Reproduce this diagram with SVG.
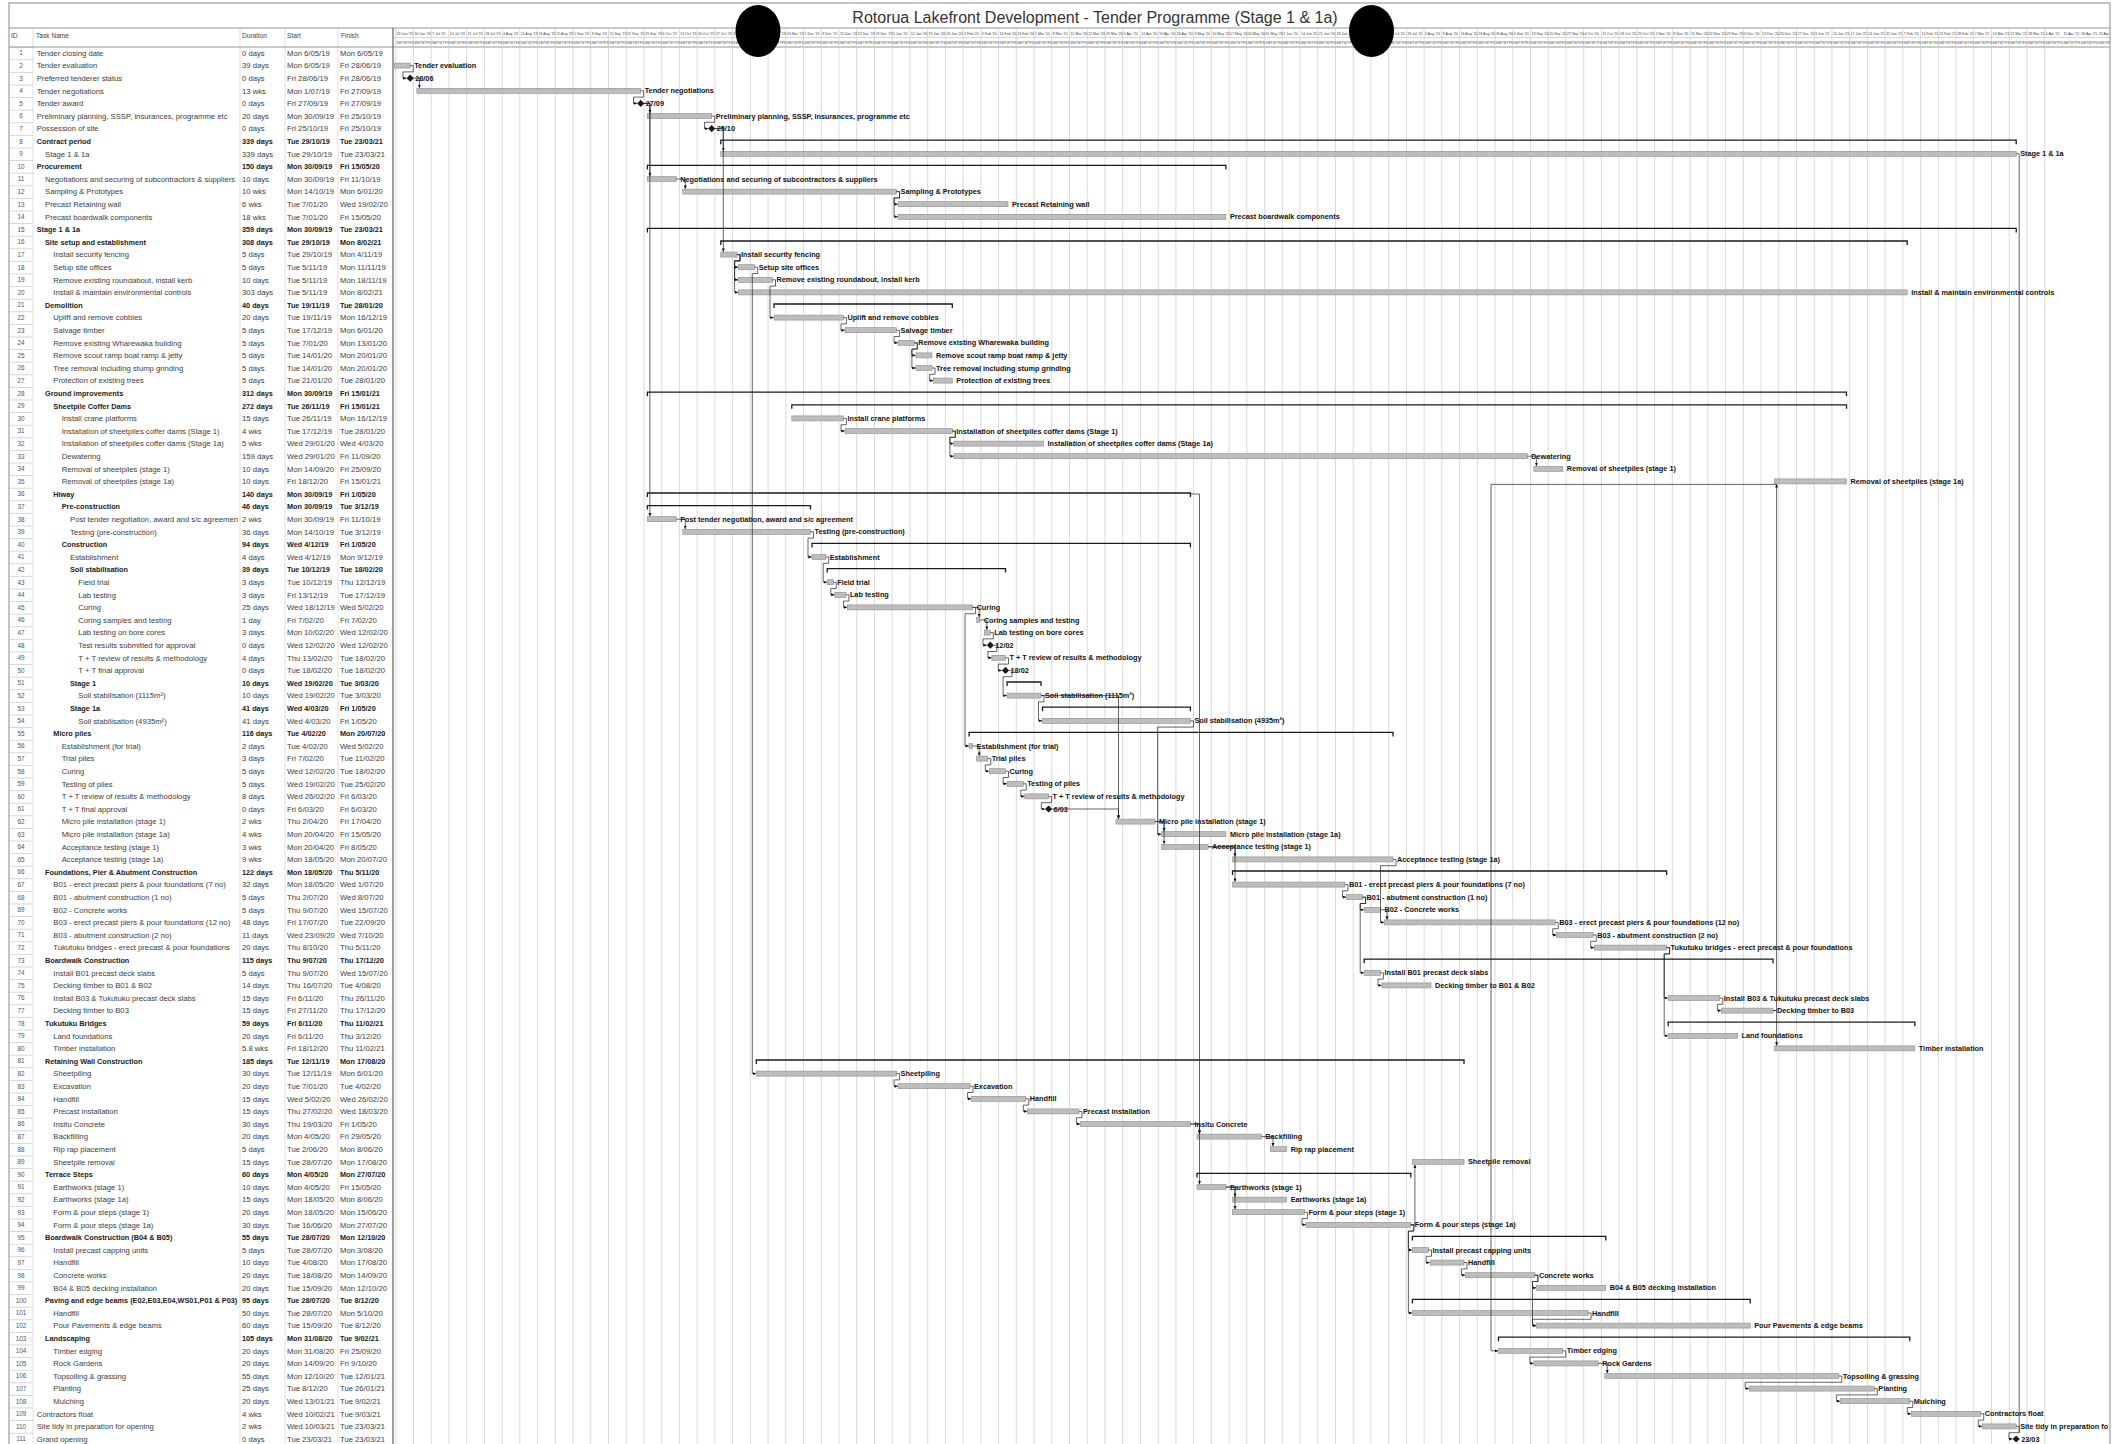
<svg xmlns="http://www.w3.org/2000/svg" width="2125" height="1444" viewBox="0 0 2125 1444">
<defs>
<style>
text{font-family:"Liberation Sans",Arial,sans-serif}
.n{font-size:7.7px;fill:#3c3c3c}
.s .n{font-size:7.3px;font-weight:bold;fill:#1a1a1a}
.i{font-size:6.4px;fill:#555;text-anchor:middle}
.l{font-size:7.3px;font-weight:bold;fill:#111}
.br{fill:#bdbdbd;stroke:#8c8c8c;stroke-width:.6}
.sm{fill:none;stroke:#1a1a1a;stroke-width:1.3}
.ms{fill:#1a1a1a}
.lk{fill:none;stroke:#222;stroke-width:.7;marker-end:url(#ah)}
.lk0{fill:none;stroke:#222;stroke-width:.7}
.hd{font-size:6.6px;fill:#444}
.wk{font-size:3.6px;fill:#444}
.dy{font-size:3.3px;fill:#444;letter-spacing:.15px}
</style>
<marker id="ah" viewBox="0 0 6 6" refX="5.5" refY="3" markerWidth="3.4" markerHeight="3.4" orient="auto" markerUnits="userSpaceOnUse"><path d="M0,0.4L6,3L0,5.6z" fill="#111"/></marker>
<pattern id="idp" x="9" y="46.7" width="24" height="12.6" patternUnits="userSpaceOnUse"><line x1="0" y1="0.3" x2="24" y2="0.3" stroke="#a8a8a8" stroke-width="0.6"/></pattern>
<clipPath id="hc"><rect x="394" y="28" width="1716" height="19"/></clipPath>
<clipPath id="cl"><rect x="394" y="-8" width="1714" height="16"/></clipPath>
</defs>
<rect width="2125" height="1444" fill="#fff"/>
<g id="frame">
<rect x="9" y="3" width="2101" height="1446" fill="#fff" stroke="#8a8a8a" stroke-width="1"/>
<rect x="9" y="46.7" width="24" height="1400" fill="url(#idp)"/>
<path d="M33,28V1444M240,28V1444M285,28V1444M338,28V1444" stroke="#d2d2d2" stroke-width="0.7" fill="none"/>
<path d="M9,28H2110M9,47H2110" stroke="#8a8a8a" stroke-width="0.9" fill="none"/>
<path d="M394,37.5H2110" stroke="#bbb" stroke-width="0.6" fill="none"/>
<path d="M395.74,28v1416m17.731-1416v1416m17.731-1416v1416m17.731-1416v1416m17.731-1416v1416m17.731-1416v1416m17.731-1416v1416m17.731-1416v1416m17.731-1416v1416m17.731-1416v1416m17.731-1416v1416m17.731-1416v1416m17.731-1416v1416m17.731-1416v1416m17.731-1416v1416m17.731-1416v1416m17.731-1416v1416m17.731-1416v1416m17.731-1416v1416m17.731-1416v1416m17.731-1416v1416m17.731-1416v1416m17.731-1416v1416m17.731-1416v1416m17.731-1416v1416m17.731-1416v1416m17.731-1416v1416m17.731-1416v1416m17.731-1416v1416m17.731-1416v1416m17.731-1416v1416m17.731-1416v1416m17.731-1416v1416m17.731-1416v1416m17.731-1416v1416m17.731-1416v1416m17.731-1416v1416m17.731-1416v1416m17.731-1416v1416m17.731-1416v1416m17.731-1416v1416m17.731-1416v1416m17.731-1416v1416m17.731-1416v1416m17.731-1416v1416m17.731-1416v1416m17.731-1416v1416m17.731-1416v1416m17.731-1416v1416m17.731-1416v1416m17.731-1416v1416m17.731-1416v1416m17.731-1416v1416m17.731-1416v1416m17.731-1416v1416m17.731-1416v1416m17.731-1416v1416m17.731-1416v1416m17.731-1416v1416m17.731-1416v1416m17.731-1416v1416m17.731-1416v1416m17.731-1416v1416m17.731-1416v1416m17.731-1416v1416m17.731-1416v1416m17.731-1416v1416m17.731-1416v1416m17.731-1416v1416m17.731-1416v1416m17.731-1416v1416m17.731-1416v1416m17.731-1416v1416m17.731-1416v1416m17.731-1416v1416m17.731-1416v1416m17.731-1416v1416m17.731-1416v1416m17.731-1416v1416m17.731-1416v1416m17.731-1416v1416m17.731-1416v1416m17.731-1416v1416m17.731-1416v1416m17.731-1416v1416m17.731-1416v1416m17.731-1416v1416m17.731-1416v1416m17.731-1416v1416m17.731-1416v1416m17.731-1416v1416m17.731-1416v1416m17.731-1416v1416m17.731-1416v1416" stroke="#cacaca" stroke-width="0.7" fill="none"/>
<path d="M393,28V1444" stroke="#777" stroke-width="1.4" fill="none"/>
</g>
<g id="title"><text x="1095" y="22.5" text-anchor="middle" font-size="16" fill="#333">Rotorua Lakefront Development - Tender Programme (Stage 1 &amp; 1a)</text></g>
<g id="table-header"><text class="hd" y="38"><tspan x="11">ID</tspan><tspan x="36">Task Name</tspan><tspan x="242">Duration</tspan><tspan x="287">Start</tspan><tspan x="341">Finish</tspan></text></g>
<g id="timescale" clip-path="url(#hc)">
<text class="wk" y="35"><tspan x="396.6">23 Jun '19</tspan><tspan x="414.4">30 Jun '19</tspan><tspan x="432.1">7 Jul '19</tspan><tspan x="449.8">14 Jul '19</tspan><tspan x="467.6">21 Jul '19</tspan><tspan x="485.3">28 Jul '19</tspan><tspan x="503">4 Aug '19</tspan><tspan x="520.8">11 Aug '19</tspan><tspan x="538.5">18 Aug '19</tspan><tspan x="556.2">25 Aug '19</tspan><tspan x="574">1 Sep '19</tspan><tspan x="591.7">8 Sep '19</tspan><tspan x="609.4">15 Sep '19</tspan><tspan x="627.1">22 Sep '19</tspan><tspan x="644.9">29 Sep '19</tspan><tspan x="662.6">6 Oct '19</tspan><tspan x="680.3">13 Oct '19</tspan><tspan x="698.1">20 Oct '19</tspan><tspan x="715.8">27 Oct '19</tspan><tspan x="733.5">3 Nov '19</tspan><tspan x="751.3">10 Nov '19</tspan><tspan x="769">17 Nov '19</tspan><tspan x="786.7">24 Nov '19</tspan><tspan x="804.5">1 Dec '19</tspan><tspan x="822.2">8 Dec '19</tspan><tspan x="839.9">15 Dec '19</tspan><tspan x="857.7">22 Dec '19</tspan><tspan x="875.4">29 Dec '19</tspan><tspan x="893.1">5 Jan '20</tspan><tspan x="910.8">12 Jan '20</tspan><tspan x="928.6">19 Jan '20</tspan><tspan x="946.3">26 Jan '20</tspan><tspan x="964">2 Feb '20</tspan><tspan x="981.8">9 Feb '20</tspan><tspan x="999.5">16 Feb '20</tspan><tspan x="1017.2">23 Feb '20</tspan><tspan x="1035">1 Mar '20</tspan><tspan x="1052.7">8 Mar '20</tspan><tspan x="1070.4">15 Mar '20</tspan><tspan x="1088.2">22 Mar '20</tspan><tspan x="1105.9">29 Mar '20</tspan><tspan x="1123.6">5 Apr '20</tspan><tspan x="1141.3">12 Apr '20</tspan><tspan x="1159.1">19 Apr '20</tspan><tspan x="1176.8">26 Apr '20</tspan><tspan x="1194.5">3 May '20</tspan><tspan x="1212.3">10 May '20</tspan><tspan x="1230">17 May '20</tspan><tspan x="1247.7">24 May '20</tspan><tspan x="1265.5">31 May '20</tspan><tspan x="1283.2">7 Jun '20</tspan><tspan x="1300.9">14 Jun '20</tspan><tspan x="1318.7">21 Jun '20</tspan><tspan x="1336.4">28 Jun '20</tspan><tspan x="1354.1">5 Jul '20</tspan><tspan x="1371.9">12 Jul '20</tspan><tspan x="1389.6">19 Jul '20</tspan><tspan x="1407.3">26 Jul '20</tspan><tspan x="1425">2 Aug '20</tspan><tspan x="1442.8">9 Aug '20</tspan><tspan x="1460.5">16 Aug '20</tspan><tspan x="1478.2">23 Aug '20</tspan><tspan x="1496">30 Aug '20</tspan><tspan x="1513.7">6 Sep '20</tspan><tspan x="1531.4">13 Sep '20</tspan><tspan x="1549.2">20 Sep '20</tspan><tspan x="1566.9">27 Sep '20</tspan><tspan x="1584.6">4 Oct '20</tspan><tspan x="1602.4">11 Oct '20</tspan><tspan x="1620.1">18 Oct '20</tspan><tspan x="1637.8">25 Oct '20</tspan><tspan x="1655.5">1 Nov '20</tspan><tspan x="1673.3">8 Nov '20</tspan><tspan x="1691">15 Nov '20</tspan><tspan x="1708.7">22 Nov '20</tspan><tspan x="1726.5">29 Nov '20</tspan><tspan x="1744.2">6 Dec '20</tspan><tspan x="1761.9">13 Dec '20</tspan><tspan x="1779.7">20 Dec '20</tspan><tspan x="1797.4">27 Dec '20</tspan><tspan x="1815.1">3 Jan '21</tspan><tspan x="1832.9">10 Jan '21</tspan><tspan x="1850.6">17 Jan '21</tspan><tspan x="1868.3">24 Jan '21</tspan><tspan x="1886.1">31 Jan '21</tspan><tspan x="1903.8">7 Feb '21</tspan><tspan x="1921.5">14 Feb '21</tspan><tspan x="1939.2">21 Feb '21</tspan><tspan x="1957">28 Feb '21</tspan><tspan x="1974.7">7 Mar '21</tspan><tspan x="1992.4">14 Mar '21</tspan><tspan x="2010.2">21 Mar '21</tspan><tspan x="2027.9">28 Mar '21</tspan><tspan x="2045.6">4 Apr '21</tspan><tspan x="2063.4">11 Apr '21</tspan><tspan x="2081.1">18 Apr '21</tspan><tspan x="2098.8">25 Apr '21</tspan></text>
<text class="dy" y="44.3"><tspan x="396.4">SMTWTFS</tspan><tspan x="414.2">SMTWTFS</tspan><tspan x="431.9">SMTWTFS</tspan><tspan x="449.6">SMTWTFS</tspan><tspan x="467.4">SMTWTFS</tspan><tspan x="485.1">SMTWTFS</tspan><tspan x="502.8">SMTWTFS</tspan><tspan x="520.6">SMTWTFS</tspan><tspan x="538.3">SMTWTFS</tspan><tspan x="556">SMTWTFS</tspan><tspan x="573.8">SMTWTFS</tspan><tspan x="591.5">SMTWTFS</tspan><tspan x="609.2">SMTWTFS</tspan><tspan x="626.9">SMTWTFS</tspan><tspan x="644.7">SMTWTFS</tspan><tspan x="662.4">SMTWTFS</tspan><tspan x="680.1">SMTWTFS</tspan><tspan x="697.9">SMTWTFS</tspan><tspan x="715.6">SMTWTFS</tspan><tspan x="733.3">SMTWTFS</tspan><tspan x="751.1">SMTWTFS</tspan><tspan x="768.8">SMTWTFS</tspan><tspan x="786.5">SMTWTFS</tspan><tspan x="804.3">SMTWTFS</tspan><tspan x="822">SMTWTFS</tspan><tspan x="839.7">SMTWTFS</tspan><tspan x="857.5">SMTWTFS</tspan><tspan x="875.2">SMTWTFS</tspan><tspan x="892.9">SMTWTFS</tspan><tspan x="910.6">SMTWTFS</tspan><tspan x="928.4">SMTWTFS</tspan><tspan x="946.1">SMTWTFS</tspan><tspan x="963.8">SMTWTFS</tspan><tspan x="981.6">SMTWTFS</tspan><tspan x="999.3">SMTWTFS</tspan><tspan x="1017">SMTWTFS</tspan><tspan x="1034.8">SMTWTFS</tspan><tspan x="1052.5">SMTWTFS</tspan><tspan x="1070.2">SMTWTFS</tspan><tspan x="1088">SMTWTFS</tspan><tspan x="1105.7">SMTWTFS</tspan><tspan x="1123.4">SMTWTFS</tspan><tspan x="1141.1">SMTWTFS</tspan><tspan x="1158.9">SMTWTFS</tspan><tspan x="1176.6">SMTWTFS</tspan><tspan x="1194.3">SMTWTFS</tspan><tspan x="1212.1">SMTWTFS</tspan><tspan x="1229.8">SMTWTFS</tspan><tspan x="1247.5">SMTWTFS</tspan><tspan x="1265.3">SMTWTFS</tspan><tspan x="1283">SMTWTFS</tspan><tspan x="1300.7">SMTWTFS</tspan><tspan x="1318.5">SMTWTFS</tspan><tspan x="1336.2">SMTWTFS</tspan><tspan x="1353.9">SMTWTFS</tspan><tspan x="1371.7">SMTWTFS</tspan><tspan x="1389.4">SMTWTFS</tspan><tspan x="1407.1">SMTWTFS</tspan><tspan x="1424.8">SMTWTFS</tspan><tspan x="1442.6">SMTWTFS</tspan><tspan x="1460.3">SMTWTFS</tspan><tspan x="1478">SMTWTFS</tspan><tspan x="1495.8">SMTWTFS</tspan><tspan x="1513.5">SMTWTFS</tspan><tspan x="1531.2">SMTWTFS</tspan><tspan x="1549">SMTWTFS</tspan><tspan x="1566.7">SMTWTFS</tspan><tspan x="1584.4">SMTWTFS</tspan><tspan x="1602.2">SMTWTFS</tspan><tspan x="1619.9">SMTWTFS</tspan><tspan x="1637.6">SMTWTFS</tspan><tspan x="1655.3">SMTWTFS</tspan><tspan x="1673.1">SMTWTFS</tspan><tspan x="1690.8">SMTWTFS</tspan><tspan x="1708.5">SMTWTFS</tspan><tspan x="1726.3">SMTWTFS</tspan><tspan x="1744">SMTWTFS</tspan><tspan x="1761.7">SMTWTFS</tspan><tspan x="1779.5">SMTWTFS</tspan><tspan x="1797.2">SMTWTFS</tspan><tspan x="1814.9">SMTWTFS</tspan><tspan x="1832.7">SMTWTFS</tspan><tspan x="1850.4">SMTWTFS</tspan><tspan x="1868.1">SMTWTFS</tspan><tspan x="1885.9">SMTWTFS</tspan><tspan x="1903.6">SMTWTFS</tspan><tspan x="1921.3">SMTWTFS</tspan><tspan x="1939">SMTWTFS</tspan><tspan x="1956.8">SMTWTFS</tspan><tspan x="1974.5">SMTWTFS</tspan><tspan x="1992.2">SMTWTFS</tspan><tspan x="2010">SMTWTFS</tspan><tspan x="2027.7">SMTWTFS</tspan><tspan x="2045.4">SMTWTFS</tspan><tspan x="2063.2">SMTWTFS</tspan><tspan x="2080.9">SMTWTFS</tspan><tspan x="2098.6">SMTWTFS</tspan></text>
</g>
<g id="tasks">
<g id="task-1" transform="translate(0,53)"><text class="i" x="21" y="2.3">1</text><text class="n" y="2.7"><tspan x="36.7">Tender closing date</tspan><tspan x="242">0 days</tspan><tspan x="287">Mon 6/05/19</tspan><tspan x="340">Mon 6/05/19</tspan></text></g>
<g id="task-2" transform="translate(0,65.6)"><text class="i" x="21" y="2.3">2</text><text class="n" y="2.7"><tspan x="36.7">Tender evaluation</tspan><tspan x="242">39 days</tspan><tspan x="287">Mon 6/05/19</tspan><tspan x="340">Fri 28/06/19</tspan></text><rect class="br" x="394.5" y="-2.5" width="15.7" height="5"/><text class="l" x="414.2" y="2.5">Tender evaluation</text></g>
<g id="task-3" transform="translate(0,78.2)"><text class="i" x="21" y="2.3">3</text><text class="n" y="2.7"><tspan x="36.7">Preferred tenderer status</tspan><tspan x="242">0 days</tspan><tspan x="287">Fri 28/06/19</tspan><tspan x="340">Fri 28/06/19</tspan></text><path class="ms" d="M410.2,-3.6l3.6,3.6l-3.6,3.6l-3.6,-3.6z"/><text class="l" x="415.2" y="2.5">28/06</text></g>
<g id="task-4" transform="translate(0,90.8)"><text class="i" x="21" y="2.3">4</text><text class="n" y="2.7"><tspan x="36.7">Tender negotiations</tspan><tspan x="242">13 wks</tspan><tspan x="287">Mon 1/07/19</tspan><tspan x="340">Fri 27/09/19</tspan></text><rect class="br" x="416.9" y="-2.5" width="223.8" height="5"/><text class="l" x="644.7" y="2.5">Tender negotiations</text></g>
<g id="task-5" transform="translate(0,103.4)"><text class="i" x="21" y="2.3">5</text><text class="n" y="2.7"><tspan x="36.7">Tender award</tspan><tspan x="242">0 days</tspan><tspan x="287">Fri 27/09/19</tspan><tspan x="340">Fri 27/09/19</tspan></text><path class="ms" d="M640.7,-3.6l3.6,3.6l-3.6,3.6l-3.6,-3.6z"/><text class="l" x="645.7" y="2.5">27/09</text></g>
<g id="task-6" transform="translate(0,116)"><text class="i" x="21" y="2.3">6</text><text class="n" y="2.7"><tspan x="36.7">Preliminary planning, SSSP, insurances, programme etc</tspan><tspan x="242">20 days</tspan><tspan x="287">Mon 30/09/19</tspan><tspan x="340">Fri 25/10/19</tspan></text><rect class="br" x="647.4" y="-2.5" width="64.3" height="5"/><text class="l" x="715.7" y="2.5">Preliminary planning, SSSP, insurances, programme etc</text></g>
<g id="task-7" transform="translate(0,128.6)"><text class="i" x="21" y="2.3">7</text><text class="n" y="2.7"><tspan x="36.7">Possession of site</tspan><tspan x="242">0 days</tspan><tspan x="287">Fri 25/10/19</tspan><tspan x="340">Fri 25/10/19</tspan></text><path class="ms" d="M711.7,-3.6l3.6,3.6l-3.6,3.6l-3.6,-3.6z"/><text class="l" x="716.7" y="2.5">25/10</text></g>
<g id="task-8" class="s" transform="translate(0,141.2)"><text class="i" x="21" y="2.3">8</text><text class="n" y="2.7"><tspan x="36.7">Contract period</tspan><tspan x="242">339 days</tspan><tspan x="287">Tue 29/10/19</tspan><tspan x="340">Tue 23/03/21</tspan></text><path class="sm" d="M720.8,3V-1H2016.2V3"/></g>
<g id="task-9" transform="translate(0,153.8)"><text class="i" x="21" y="2.3">9</text><text class="n" y="2.7"><tspan x="45">Stage 1 &amp; 1a</tspan><tspan x="242">339 days</tspan><tspan x="287">Tue 29/10/19</tspan><tspan x="340">Tue 23/03/21</tspan></text><rect class="br" x="720.8" y="-2.5" width="1295.4" height="5"/><text class="l" x="2020.2" y="2.5">Stage 1 &amp; 1a</text></g>
<g id="task-10" class="s" transform="translate(0,166.4)"><text class="i" x="21" y="2.3">10</text><text class="n" y="2.7"><tspan x="36.7">Procurement</tspan><tspan x="242">150 days</tspan><tspan x="287">Mon 30/09/19</tspan><tspan x="340">Fri 15/05/20</tspan></text><path class="sm" d="M647.4,3V-1H1225.9V3"/></g>
<g id="task-11" transform="translate(0,179)"><text class="i" x="21" y="2.3">11</text><text class="n" y="2.7"><tspan x="45">Negotiations and securing of subcontractors &amp; suppliers</tspan><tspan x="242">10 days</tspan><tspan x="287">Mon 30/09/19</tspan><tspan x="340">Fri 11/10/19</tspan></text><rect class="br" x="647.4" y="-2.5" width="28.8" height="5"/><text class="l" x="680.2" y="2.5">Negotiations and securing of subcontractors &amp; suppliers</text></g>
<g id="task-12" transform="translate(0,191.6)"><text class="i" x="21" y="2.3">12</text><text class="n" y="2.7"><tspan x="45">Sampling &amp; Prototypes</tspan><tspan x="242">10 wks</tspan><tspan x="287">Mon 14/10/19</tspan><tspan x="340">Mon 6/01/20</tspan></text><rect class="br" x="682.8" y="-2.5" width="213.8" height="5"/><text class="l" x="900.6" y="2.5">Sampling &amp; Prototypes</text></g>
<g id="task-13" transform="translate(0,204.2)"><text class="i" x="21" y="2.3">13</text><text class="n" y="2.7"><tspan x="45">Precast Retaining wall</tspan><tspan x="242">6 wks</tspan><tspan x="287">Tue 7/01/20</tspan><tspan x="340">Wed 19/02/20</tspan></text><rect class="br" x="898.1" y="-2.5" width="109.9" height="5"/><text class="l" x="1012" y="2.5">Precast Retaining wall</text></g>
<g id="task-14" transform="translate(0,216.8)"><text class="i" x="21" y="2.3">14</text><text class="n" y="2.7"><tspan x="45">Precast boardwalk components</tspan><tspan x="242">18 wks</tspan><tspan x="287">Tue 7/01/20</tspan><tspan x="340">Fri 15/05/20</tspan></text><rect class="br" x="898.1" y="-2.5" width="327.8" height="5"/><text class="l" x="1229.9" y="2.5">Precast boardwalk components</text></g>
<g id="task-15" class="s" transform="translate(0,229.4)"><text class="i" x="21" y="2.3">15</text><text class="n" y="2.7"><tspan x="36.7">Stage 1 &amp; 1a</tspan><tspan x="242">359 days</tspan><tspan x="287">Mon 30/09/19</tspan><tspan x="340">Tue 23/03/21</tspan></text><path class="sm" d="M647.4,3V-1H2016.2V3"/></g>
<g id="task-16" class="s" transform="translate(0,242)"><text class="i" x="21" y="2.3">16</text><text class="n" y="2.7"><tspan x="45">Site setup and establishment</tspan><tspan x="242">308 days</tspan><tspan x="287">Tue 29/10/19</tspan><tspan x="340">Mon 8/02/21</tspan></text><path class="sm" d="M720.8,3V-1H1907.2V3"/></g>
<g id="task-17" transform="translate(0,254.6)"><text class="i" x="21" y="2.3">17</text><text class="n" y="2.7"><tspan x="53.3">Install security fencing</tspan><tspan x="242">5 days</tspan><tspan x="287">Tue 29/10/19</tspan><tspan x="340">Mon 4/11/19</tspan></text><rect class="br" x="720.8" y="-2.5" width="16.2" height="5"/><text class="l" x="741" y="2.5">Install security fencing</text></g>
<g id="task-18" transform="translate(0,267.2)"><text class="i" x="21" y="2.3">18</text><text class="n" y="2.7"><tspan x="53.3">Setup site offices</tspan><tspan x="242">5 days</tspan><tspan x="287">Tue 5/11/19</tspan><tspan x="340">Mon 11/11/19</tspan></text><rect class="br" x="738.6" y="-2.5" width="16.1" height="5"/><text class="l" x="758.7" y="2.5">Setup site offices</text></g>
<g id="task-19" transform="translate(0,279.8)"><text class="i" x="21" y="2.3">19</text><text class="n" y="2.7"><tspan x="53.3">Remove existing roundabout, install kerb</tspan><tspan x="242">10 days</tspan><tspan x="287">Tue 5/11/19</tspan><tspan x="340">Mon 18/11/19</tspan></text><rect class="br" x="738.6" y="-2.5" width="33.9" height="5"/><text class="l" x="776.5" y="2.5">Remove existing roundabout, install kerb</text></g>
<g id="task-20" transform="translate(0,292.4)"><text class="i" x="21" y="2.3">20</text><text class="n" y="2.7"><tspan x="53.3">Install &amp; maintain environmental controls</tspan><tspan x="242">303 days</tspan><tspan x="287">Tue 5/11/19</tspan><tspan x="340">Mon 8/02/21</tspan></text><rect class="br" x="738.6" y="-2.5" width="1168.6" height="5"/><text class="l" x="1911.2" y="2.5">Install &amp; maintain environmental controls</text></g>
<g id="task-21" class="s" transform="translate(0,305)"><text class="i" x="21" y="2.3">21</text><text class="n" y="2.7"><tspan x="45">Demolition</tspan><tspan x="242">40 days</tspan><tspan x="287">Tue 19/11/19</tspan><tspan x="340">Tue 28/01/20</tspan></text><path class="sm" d="M774,3V-1H952.3V3"/></g>
<g id="task-22" transform="translate(0,317.6)"><text class="i" x="21" y="2.3">22</text><text class="n" y="2.7"><tspan x="53.3">Uplift and remove cobbles</tspan><tspan x="242">20 days</tspan><tspan x="287">Tue 19/11/19</tspan><tspan x="340">Mon 16/12/19</tspan></text><rect class="br" x="774" y="-2.5" width="69.4" height="5"/><text class="l" x="847.4" y="2.5">Uplift and remove cobbles</text></g>
<g id="task-23" transform="translate(0,330.2)"><text class="i" x="21" y="2.3">23</text><text class="n" y="2.7"><tspan x="53.3">Salvage timber</tspan><tspan x="242">5 days</tspan><tspan x="287">Tue 17/12/19</tspan><tspan x="340">Mon 6/01/20</tspan></text><rect class="br" x="845" y="-2.5" width="51.6" height="5"/><text class="l" x="900.6" y="2.5">Salvage timber</text></g>
<g id="task-24" transform="translate(0,342.8)"><text class="i" x="21" y="2.3">24</text><text class="n" y="2.7"><tspan x="53.3">Remove existing Wharewaka building</tspan><tspan x="242">5 days</tspan><tspan x="287">Tue 7/01/20</tspan><tspan x="340">Mon 13/01/20</tspan></text><rect class="br" x="898.1" y="-2.5" width="16.2" height="5"/><text class="l" x="918.3" y="2.5">Remove existing Wharewaka building</text></g>
<g id="task-25" transform="translate(0,355.4)"><text class="i" x="21" y="2.3">25</text><text class="n" y="2.7"><tspan x="53.3">Remove scout ramp boat ramp &amp; jetty</tspan><tspan x="242">5 days</tspan><tspan x="287">Tue 14/01/20</tspan><tspan x="340">Mon 20/01/20</tspan></text><rect class="br" x="915.9" y="-2.5" width="16.1" height="5"/><text class="l" x="936" y="2.5">Remove scout ramp boat ramp &amp; jetty</text></g>
<g id="task-26" transform="translate(0,368)"><text class="i" x="21" y="2.3">26</text><text class="n" y="2.7"><tspan x="53.3">Tree removal including stump grinding</tspan><tspan x="242">5 days</tspan><tspan x="287">Tue 14/01/20</tspan><tspan x="340">Mon 20/01/20</tspan></text><rect class="br" x="915.9" y="-2.5" width="16.1" height="5"/><text class="l" x="936" y="2.5">Tree removal including stump grinding</text></g>
<g id="task-27" transform="translate(0,380.6)"><text class="i" x="21" y="2.3">27</text><text class="n" y="2.7"><tspan x="53.3">Protection of existing trees</tspan><tspan x="242">5 days</tspan><tspan x="287">Tue 21/01/20</tspan><tspan x="340">Tue 28/01/20</tspan></text><rect class="br" x="933.6" y="-2.5" width="18.7" height="5"/><text class="l" x="956.3" y="2.5">Protection of existing trees</text></g>
<g id="task-28" class="s" transform="translate(0,393.2)"><text class="i" x="21" y="2.3">28</text><text class="n" y="2.7"><tspan x="45">Ground improvements</tspan><tspan x="242">312 days</tspan><tspan x="287">Mon 30/09/19</tspan><tspan x="340">Fri 15/01/21</tspan></text><path class="sm" d="M647.4,3V-1H1846.5V3"/></g>
<g id="task-29" class="s" transform="translate(0,405.8)"><text class="i" x="21" y="2.3">29</text><text class="n" y="2.7"><tspan x="53.3">Sheetpile Coffer Dams</tspan><tspan x="242">272 days</tspan><tspan x="287">Tue 26/11/19</tspan><tspan x="340">Fri 15/01/21</tspan></text><path class="sm" d="M791.8,3V-1H1846.5V3"/></g>
<g id="task-30" transform="translate(0,418.4)"><text class="i" x="21" y="2.3">30</text><text class="n" y="2.7"><tspan x="61.7">Install crane platforms</tspan><tspan x="242">15 days</tspan><tspan x="287">Tue 26/11/19</tspan><tspan x="340">Mon 16/12/19</tspan></text><rect class="br" x="791.8" y="-2.5" width="51.6" height="5"/><text class="l" x="847.4" y="2.5">Install crane platforms</text></g>
<g id="task-31" transform="translate(0,431)"><text class="i" x="21" y="2.3">31</text><text class="n" y="2.7"><tspan x="61.7">Installation of sheetpiles coffer dams (Stage 1)</tspan><tspan x="242">4 wks</tspan><tspan x="287">Tue 17/12/19</tspan><tspan x="340">Tue 28/01/20</tspan></text><rect class="br" x="845" y="-2.5" width="107.3" height="5"/><text class="l" x="956.3" y="2.5">Installation of sheetpiles coffer dams (Stage 1)</text></g>
<g id="task-32" transform="translate(0,443.6)"><text class="i" x="21" y="2.3">32</text><text class="n" y="2.7"><tspan x="61.7">Installation of sheetpiles coffer dams (Stage 1a)</tspan><tspan x="242">5 wks</tspan><tspan x="287">Wed 29/01/20</tspan><tspan x="340">Wed 4/03/20</tspan></text><rect class="br" x="953.9" y="-2.5" width="89.6" height="5"/><text class="l" x="1047.5" y="2.5">Installation of sheetpiles coffer dams (Stage 1a)</text></g>
<g id="task-33" transform="translate(0,456.2)"><text class="i" x="21" y="2.3">33</text><text class="n" y="2.7"><tspan x="61.7">Dewatering</tspan><tspan x="242">159 days</tspan><tspan x="287">Wed 29/01/20</tspan><tspan x="340">Fri 11/09/20</tspan></text><rect class="br" x="953.9" y="-2.5" width="573.4" height="5"/><text class="l" x="1531.3" y="2.5">Dewatering</text></g>
<g id="task-34" transform="translate(0,468.8)"><text class="i" x="21" y="2.3">34</text><text class="n" y="2.7"><tspan x="61.7">Removal of sheetpiles (stage 1)</tspan><tspan x="242">10 days</tspan><tspan x="287">Mon 14/09/20</tspan><tspan x="340">Fri 25/09/20</tspan></text><rect class="br" x="1533.9" y="-2.5" width="28.9" height="5"/><text class="l" x="1566.8" y="2.5">Removal of sheetpiles (stage 1)</text></g>
<g id="task-35" transform="translate(0,481.4)"><text class="i" x="21" y="2.3">35</text><text class="n" y="2.7"><tspan x="61.7">Removal of sheetpiles (stage 1a)</tspan><tspan x="242">10 days</tspan><tspan x="287">Fri 18/12/20</tspan><tspan x="340">Fri 15/01/21</tspan></text><rect class="br" x="1774.6" y="-2.5" width="71.9" height="5"/><text class="l" x="1850.5" y="2.5">Removal of sheetpiles (stage 1a)</text></g>
<g id="task-36" class="s" transform="translate(0,494)"><text class="i" x="21" y="2.3">36</text><text class="n" y="2.7"><tspan x="53.3">Hiway</tspan><tspan x="242">140 days</tspan><tspan x="287">Mon 30/09/19</tspan><tspan x="340">Fri 1/05/20</tspan></text><path class="sm" d="M647.4,3V-1H1190.4V3"/></g>
<g id="task-37" class="s" transform="translate(0,506.6)"><text class="i" x="21" y="2.3">37</text><text class="n" y="2.7"><tspan x="61.7">Pre-construction</tspan><tspan x="242">46 days</tspan><tspan x="287">Mon 30/09/19</tspan><tspan x="340">Tue 3/12/19</tspan></text><path class="sm" d="M647.4,3V-1H810.5V3"/></g>
<g id="task-38" transform="translate(0,519.2)"><text class="i" x="21" y="2.3">38</text><text class="n" y="2.7"><tspan x="70">Post tender negotiation, award and s/c agreemen</tspan><tspan x="242">2 wks</tspan><tspan x="287">Mon 30/09/19</tspan><tspan x="340">Fri 11/10/19</tspan></text><rect class="br" x="647.4" y="-2.5" width="28.8" height="5"/><text class="l" x="680.2" y="2.5">Post tender negotiation, award and s/c agreement</text></g>
<g id="task-39" transform="translate(0,531.8)"><text class="i" x="21" y="2.3">39</text><text class="n" y="2.7"><tspan x="70">Testing (pre-construction)</tspan><tspan x="242">36 days</tspan><tspan x="287">Mon 14/10/19</tspan><tspan x="340">Tue 3/12/19</tspan></text><rect class="br" x="682.8" y="-2.5" width="127.7" height="5"/><text class="l" x="814.5" y="2.5">Testing (pre-construction)</text></g>
<g id="task-40" class="s" transform="translate(0,544.4)"><text class="i" x="21" y="2.3">40</text><text class="n" y="2.7"><tspan x="61.7">Construction</tspan><tspan x="242">94 days</tspan><tspan x="287">Wed 4/12/19</tspan><tspan x="340">Fri 1/05/20</tspan></text><path class="sm" d="M812,3V-1H1190.4V3"/></g>
<g id="task-41" transform="translate(0,557)"><text class="i" x="21" y="2.3">41</text><text class="n" y="2.7"><tspan x="70">Establishment</tspan><tspan x="242">4 days</tspan><tspan x="287">Wed 4/12/19</tspan><tspan x="340">Mon 9/12/19</tspan></text><rect class="br" x="812" y="-2.5" width="13.7" height="5"/><text class="l" x="829.7" y="2.5">Establishment</text></g>
<g id="task-42" class="s" transform="translate(0,569.6)"><text class="i" x="21" y="2.3">42</text><text class="n" y="2.7"><tspan x="70">Soil stabilisation</tspan><tspan x="242">39 days</tspan><tspan x="287">Tue 10/12/19</tspan><tspan x="340">Tue 18/02/20</tspan></text><path class="sm" d="M827.2,3V-1H1005.5V3"/></g>
<g id="task-43" transform="translate(0,582.2)"><text class="i" x="21" y="2.3">43</text><text class="n" y="2.7"><tspan x="78.3">Field trial</tspan><tspan x="242">3 days</tspan><tspan x="287">Tue 10/12/19</tspan><tspan x="340">Thu 12/12/19</tspan></text><rect class="br" x="827.2" y="-2.5" width="6.1" height="5"/><text class="l" x="837.3" y="2.5">Field trial</text></g>
<g id="task-44" transform="translate(0,594.8)"><text class="i" x="21" y="2.3">44</text><text class="n" y="2.7"><tspan x="78.3">Lab testing</tspan><tspan x="242">3 days</tspan><tspan x="287">Fri 13/12/19</tspan><tspan x="340">Tue 17/12/19</tspan></text><rect class="br" x="834.8" y="-2.5" width="11.1" height="5"/><text class="l" x="849.9" y="2.5">Lab testing</text></g>
<g id="task-45" transform="translate(0,607.4)"><text class="i" x="21" y="2.3">45</text><text class="n" y="2.7"><tspan x="78.3">Curing</tspan><tspan x="242">25 days</tspan><tspan x="287">Wed 18/12/19</tspan><tspan x="340">Wed 5/02/20</tspan></text><rect class="br" x="847.5" y="-2.5" width="125.1" height="5"/><text class="l" x="976.6" y="2.5">Curing</text></g>
<g id="task-46" transform="translate(0,620)"><text class="i" x="21" y="2.3">46</text><text class="n" y="2.7"><tspan x="78.3">Coring samples and testing</tspan><tspan x="242">1 day</tspan><tspan x="287">Fri 7/02/20</tspan><tspan x="340">Fri 7/02/20</tspan></text><rect class="br" x="976.7" y="-2.5" width="3" height="5"/><text class="l" x="983.7" y="2.5">Coring samples and testing</text></g>
<g id="task-47" transform="translate(0,632.6)"><text class="i" x="21" y="2.3">47</text><text class="n" y="2.7"><tspan x="78.3">Lab testing on bore cores</tspan><tspan x="242">3 days</tspan><tspan x="287">Mon 10/02/20</tspan><tspan x="340">Wed 12/02/20</tspan></text><rect class="br" x="984.3" y="-2.5" width="6" height="5"/><text class="l" x="994.3" y="2.5">Lab testing on bore cores</text></g>
<g id="task-48" transform="translate(0,645.2)"><text class="i" x="21" y="2.3">48</text><text class="n" y="2.7"><tspan x="78.3">Test results submitted for approval</tspan><tspan x="242">0 days</tspan><tspan x="287">Wed 12/02/20</tspan><tspan x="340">Wed 12/02/20</tspan></text><path class="ms" d="M990.3,-3.6l3.6,3.6l-3.6,3.6l-3.6,-3.6z"/><text class="l" x="995.3" y="2.5">12/02</text></g>
<g id="task-49" transform="translate(0,657.8)"><text class="i" x="21" y="2.3">49</text><text class="n" y="2.7"><tspan x="78.3">T + T review of results &amp; methodology</tspan><tspan x="242">4 days</tspan><tspan x="287">Thu 13/02/20</tspan><tspan x="340">Tue 18/02/20</tspan></text><rect class="br" x="991.9" y="-2.5" width="13.6" height="5"/><text class="l" x="1009.5" y="2.5">T + T review of results &amp; methodology</text></g>
<g id="task-50" transform="translate(0,670.4)"><text class="i" x="21" y="2.3">50</text><text class="n" y="2.7"><tspan x="78.3">T + T final approval</tspan><tspan x="242">0 days</tspan><tspan x="287">Tue 18/02/20</tspan><tspan x="340">Tue 18/02/20</tspan></text><path class="ms" d="M1005.5,-3.6l3.6,3.6l-3.6,3.6l-3.6,-3.6z"/><text class="l" x="1010.5" y="2.5">18/02</text></g>
<g id="task-51" class="s" transform="translate(0,683)"><text class="i" x="21" y="2.3">51</text><text class="n" y="2.7"><tspan x="70">Stage 1</tspan><tspan x="242">10 days</tspan><tspan x="287">Wed 19/02/20</tspan><tspan x="340">Tue 3/03/20</tspan></text><path class="sm" d="M1007.1,3V-1H1041V3"/></g>
<g id="task-52" transform="translate(0,695.6)"><text class="i" x="21" y="2.3">52</text><text class="n" y="2.7"><tspan x="78.3">Soil stabilisation (1115m²)</tspan><tspan x="242">10 days</tspan><tspan x="287">Wed 19/02/20</tspan><tspan x="340">Tue 3/03/20</tspan></text><rect class="br" x="1007.1" y="-2.5" width="33.9" height="5"/><text class="l" x="1045" y="2.5">Soil stabilisation (1115m²)</text></g>
<g id="task-53" class="s" transform="translate(0,708.2)"><text class="i" x="21" y="2.3">53</text><text class="n" y="2.7"><tspan x="70">Stage 1a</tspan><tspan x="242">41 days</tspan><tspan x="287">Wed 4/03/20</tspan><tspan x="340">Fri 1/05/20</tspan></text><path class="sm" d="M1042.5,3V-1H1190.4V3"/></g>
<g id="task-54" transform="translate(0,720.8)"><text class="i" x="21" y="2.3">54</text><text class="n" y="2.7"><tspan x="78.3">Soil stabilisation (4935m²)</tspan><tspan x="242">41 days</tspan><tspan x="287">Wed 4/03/20</tspan><tspan x="340">Fri 1/05/20</tspan></text><rect class="br" x="1042.5" y="-2.5" width="147.9" height="5"/><text class="l" x="1194.4" y="2.5">Soil stabilisation (4935m²)</text></g>
<g id="task-55" class="s" transform="translate(0,733.4)"><text class="i" x="21" y="2.3">55</text><text class="n" y="2.7"><tspan x="53.3">Micro piles</tspan><tspan x="242">116 days</tspan><tspan x="287">Tue 4/02/20</tspan><tspan x="340">Mon 20/07/20</tspan></text><path class="sm" d="M969.1,3V-1H1393V3"/></g>
<g id="task-56" transform="translate(0,746)"><text class="i" x="21" y="2.3">56</text><text class="n" y="2.7"><tspan x="61.7">Establishment (for trial)</tspan><tspan x="242">2 days</tspan><tspan x="287">Tue 4/02/20</tspan><tspan x="340">Wed 5/02/20</tspan></text><rect class="br" x="969.1" y="-2.5" width="3.5" height="5"/><text class="l" x="976.6" y="2.5">Establishment (for trial)</text></g>
<g id="task-57" transform="translate(0,758.6)"><text class="i" x="21" y="2.3">57</text><text class="n" y="2.7"><tspan x="61.7">Trial piles</tspan><tspan x="242">3 days</tspan><tspan x="287">Fri 7/02/20</tspan><tspan x="340">Tue 11/02/20</tspan></text><rect class="br" x="976.7" y="-2.5" width="11.1" height="5"/><text class="l" x="991.8" y="2.5">Trial piles</text></g>
<g id="task-58" transform="translate(0,771.2)"><text class="i" x="21" y="2.3">58</text><text class="n" y="2.7"><tspan x="61.7">Curing</tspan><tspan x="242">5 days</tspan><tspan x="287">Wed 12/02/20</tspan><tspan x="340">Tue 18/02/20</tspan></text><rect class="br" x="989.3" y="-2.5" width="16.2" height="5"/><text class="l" x="1009.5" y="2.5">Curing</text></g>
<g id="task-59" transform="translate(0,783.8)"><text class="i" x="21" y="2.3">59</text><text class="n" y="2.7"><tspan x="61.7">Testing of piles</tspan><tspan x="242">5 days</tspan><tspan x="287">Wed 19/02/20</tspan><tspan x="340">Tue 25/02/20</tspan></text><rect class="br" x="1007.1" y="-2.5" width="16.1" height="5"/><text class="l" x="1027.2" y="2.5">Testing of piles</text></g>
<g id="task-60" transform="translate(0,796.4)"><text class="i" x="21" y="2.3">60</text><text class="n" y="2.7"><tspan x="61.7">T + T review of results &amp; methodology</tspan><tspan x="242">8 days</tspan><tspan x="287">Wed 26/02/20</tspan><tspan x="340">Fri 6/03/20</tspan></text><rect class="br" x="1024.8" y="-2.5" width="23.8" height="5"/><text class="l" x="1052.6" y="2.5">T + T review of results &amp; methodology</text></g>
<g id="task-61" transform="translate(0,809)"><text class="i" x="21" y="2.3">61</text><text class="n" y="2.7"><tspan x="61.7">T + T final approval</tspan><tspan x="242">0 days</tspan><tspan x="287">Fri 6/03/20</tspan><tspan x="340">Fri 6/03/20</tspan></text><path class="ms" d="M1048.6,-3.6l3.6,3.6l-3.6,3.6l-3.6,-3.6z"/><text class="l" x="1053.6" y="2.5">6/03</text></g>
<g id="task-62" transform="translate(0,821.6)"><text class="i" x="21" y="2.3">62</text><text class="n" y="2.7"><tspan x="61.7">Micro pile installation (stage 1)</tspan><tspan x="242">2 wks</tspan><tspan x="287">Thu 2/04/20</tspan><tspan x="340">Fri 17/04/20</tspan></text><rect class="br" x="1116" y="-2.5" width="39" height="5"/><text class="l" x="1159" y="2.5">Micro pile installation (stage 1)</text></g>
<g id="task-63" transform="translate(0,834.2)"><text class="i" x="21" y="2.3">63</text><text class="n" y="2.7"><tspan x="61.7">Micro pile installation (stage 1a)</tspan><tspan x="242">4 wks</tspan><tspan x="287">Mon 20/04/20</tspan><tspan x="340">Fri 15/05/20</tspan></text><rect class="br" x="1161.6" y="-2.5" width="64.3" height="5"/><text class="l" x="1229.9" y="2.5">Micro pile installation (stage 1a)</text></g>
<g id="task-64" transform="translate(0,846.8)"><text class="i" x="21" y="2.3">64</text><text class="n" y="2.7"><tspan x="61.7">Acceptance testing (stage 1)</tspan><tspan x="242">3 wks</tspan><tspan x="287">Mon 20/04/20</tspan><tspan x="340">Fri 8/05/20</tspan></text><rect class="br" x="1161.6" y="-2.5" width="46.5" height="5"/><text class="l" x="1212.1" y="2.5">Acceptance testing (stage 1)</text></g>
<g id="task-65" transform="translate(0,859.4)"><text class="i" x="21" y="2.3">65</text><text class="n" y="2.7"><tspan x="61.7">Acceptance testing (stage 1a)</tspan><tspan x="242">9 wks</tspan><tspan x="287">Mon 18/05/20</tspan><tspan x="340">Mon 20/07/20</tspan></text><rect class="br" x="1232.5" y="-2.5" width="160.5" height="5"/><text class="l" x="1397" y="2.5">Acceptance testing (stage 1a)</text></g>
<g id="task-66" class="s" transform="translate(0,872)"><text class="i" x="21" y="2.3">66</text><text class="n" y="2.7"><tspan x="45">Foundations, Pier &amp; Abutment Construction</tspan><tspan x="242">122 days</tspan><tspan x="287">Mon 18/05/20</tspan><tspan x="340">Thu 5/11/20</tspan></text><path class="sm" d="M1232.5,3V-1H1666.6V3"/></g>
<g id="task-67" transform="translate(0,884.6)"><text class="i" x="21" y="2.3">67</text><text class="n" y="2.7"><tspan x="53.3">B01 - erect precast piers &amp; pour foundations (7 no)</tspan><tspan x="242">32 days</tspan><tspan x="287">Mon 18/05/20</tspan><tspan x="340">Wed 1/07/20</tspan></text><rect class="br" x="1232.5" y="-2.5" width="112.4" height="5"/><text class="l" x="1348.9" y="2.5">B01 - erect precast piers &amp; pour foundations (7 no)</text></g>
<g id="task-68" transform="translate(0,897.2)"><text class="i" x="21" y="2.3">68</text><text class="n" y="2.7"><tspan x="53.3">B01 - abutment construction (1 no)</tspan><tspan x="242">5 days</tspan><tspan x="287">Thu 2/07/20</tspan><tspan x="340">Wed 8/07/20</tspan></text><rect class="br" x="1346.5" y="-2.5" width="16.1" height="5"/><text class="l" x="1366.6" y="2.5">B01 - abutment construction (1 no)</text></g>
<g id="task-69" transform="translate(0,909.8)"><text class="i" x="21" y="2.3">69</text><text class="n" y="2.7"><tspan x="53.3">B02 - Concrete works</tspan><tspan x="242">5 days</tspan><tspan x="287">Thu 9/07/20</tspan><tspan x="340">Wed 15/07/20</tspan></text><rect class="br" x="1364.2" y="-2.5" width="16.2" height="5"/><text class="l" x="1384.4" y="2.5">B02 - Concrete works</text></g>
<g id="task-70" transform="translate(0,922.4)"><text class="i" x="21" y="2.3">70</text><text class="n" y="2.7"><tspan x="53.3">B03 - erect precast piers &amp; pour foundations (12 no)</tspan><tspan x="242">48 days</tspan><tspan x="287">Fri 17/07/20</tspan><tspan x="340">Tue 22/09/20</tspan></text><rect class="br" x="1384.5" y="-2.5" width="170.7" height="5"/><text class="l" x="1559.2" y="2.5">B03 - erect precast piers &amp; pour foundations (12 no)</text></g>
<g id="task-71" transform="translate(0,935)"><text class="i" x="21" y="2.3">71</text><text class="n" y="2.7"><tspan x="53.3">B03 - abutment construction (2 no)</tspan><tspan x="242">11 days</tspan><tspan x="287">Wed 23/09/20</tspan><tspan x="340">Wed 7/10/20</tspan></text><rect class="br" x="1556.7" y="-2.5" width="36.5" height="5"/><text class="l" x="1597.2" y="2.5">B03 - abutment construction (2 no)</text></g>
<g id="task-72" transform="translate(0,947.6)"><text class="i" x="21" y="2.3">72</text><text class="n" y="2.7"><tspan x="53.3">Tukutuku bridges - erect precast &amp; pour foundations</tspan><tspan x="242">20 days</tspan><tspan x="287">Thu 8/10/20</tspan><tspan x="340">Thu 5/11/20</tspan></text><rect class="br" x="1594.7" y="-2.5" width="71.9" height="5"/><text class="l" x="1670.6" y="2.5">Tukutuku bridges - erect precast &amp; pour foundations</text></g>
<g id="task-73" class="s" transform="translate(0,960.2)"><text class="i" x="21" y="2.3">73</text><text class="n" y="2.7"><tspan x="45">Boardwalk Construction</tspan><tspan x="242">115 days</tspan><tspan x="287">Thu 9/07/20</tspan><tspan x="340">Thu 17/12/20</tspan></text><path class="sm" d="M1364.2,3V-1H1773V3"/></g>
<g id="task-74" transform="translate(0,972.8)"><text class="i" x="21" y="2.3">74</text><text class="n" y="2.7"><tspan x="53.3">Install B01 precast deck slabs</tspan><tspan x="242">5 days</tspan><tspan x="287">Thu 9/07/20</tspan><tspan x="340">Wed 15/07/20</tspan></text><rect class="br" x="1364.2" y="-2.5" width="16.2" height="5"/><text class="l" x="1384.4" y="2.5">Install B01 precast deck slabs</text></g>
<g id="task-75" transform="translate(0,985.4)"><text class="i" x="21" y="2.3">75</text><text class="n" y="2.7"><tspan x="53.3">Decking timber to B01 &amp; B02</tspan><tspan x="242">14 days</tspan><tspan x="287">Thu 16/07/20</tspan><tspan x="340">Tue 4/08/20</tspan></text><rect class="br" x="1382" y="-2.5" width="49" height="5"/><text class="l" x="1435" y="2.5">Decking timber to B01 &amp; B02</text></g>
<g id="task-76" transform="translate(0,998)"><text class="i" x="21" y="2.3">76</text><text class="n" y="2.7"><tspan x="53.3">Install B03 &amp; Tukutuku precast deck slabs</tspan><tspan x="242">15 days</tspan><tspan x="287">Fri 6/11/20</tspan><tspan x="340">Thu 26/11/20</tspan></text><rect class="br" x="1668.2" y="-2.5" width="51.6" height="5"/><text class="l" x="1723.8" y="2.5">Install B03 &amp; Tukutuku precast deck slabs</text></g>
<g id="task-77" transform="translate(0,1010.6)"><text class="i" x="21" y="2.3">77</text><text class="n" y="2.7"><tspan x="53.3">Decking timber to B03</tspan><tspan x="242">15 days</tspan><tspan x="287">Fri 27/11/20</tspan><tspan x="340">Thu 17/12/20</tspan></text><rect class="br" x="1721.4" y="-2.5" width="51.6" height="5"/><text class="l" x="1777" y="2.5">Decking timber to B03</text></g>
<g id="task-78" class="s" transform="translate(0,1023.2)"><text class="i" x="21" y="2.3">78</text><text class="n" y="2.7"><tspan x="45">Tukutuku Bridges</tspan><tspan x="242">59 days</tspan><tspan x="287">Fri 6/11/20</tspan><tspan x="340">Thu 11/02/21</tspan></text><path class="sm" d="M1668.2,3V-1H1914.8V3"/></g>
<g id="task-79" transform="translate(0,1035.8)"><text class="i" x="21" y="2.3">79</text><text class="n" y="2.7"><tspan x="53.3">Land foundations</tspan><tspan x="242">20 days</tspan><tspan x="287">Fri 6/11/20</tspan><tspan x="340">Thu 3/12/20</tspan></text><rect class="br" x="1668.2" y="-2.5" width="69.3" height="5"/><text class="l" x="1741.5" y="2.5">Land foundations</text></g>
<g id="task-80" transform="translate(0,1048.4)"><text class="i" x="21" y="2.3">80</text><text class="n" y="2.7"><tspan x="53.3">Timber installation</tspan><tspan x="242">5.8 wks</tspan><tspan x="287">Fri 18/12/20</tspan><tspan x="340">Thu 11/02/21</tspan></text><rect class="br" x="1774.6" y="-2.5" width="140.2" height="5"/><text class="l" x="1918.8" y="2.5">Timber installation</text></g>
<g id="task-81" class="s" transform="translate(0,1061)"><text class="i" x="21" y="2.3">81</text><text class="n" y="2.7"><tspan x="45">Retaining Wall Construction</tspan><tspan x="242">185 days</tspan><tspan x="287">Tue 12/11/19</tspan><tspan x="340">Mon 17/08/20</tspan></text><path class="sm" d="M756.3,3V-1H1464V3"/></g>
<g id="task-82" transform="translate(0,1073.6)"><text class="i" x="21" y="2.3">82</text><text class="n" y="2.7"><tspan x="53.3">Sheetpiling</tspan><tspan x="242">30 days</tspan><tspan x="287">Tue 12/11/19</tspan><tspan x="340">Mon 6/01/20</tspan></text><rect class="br" x="756.3" y="-2.5" width="140.3" height="5"/><text class="l" x="900.6" y="2.5">Sheetpiling</text></g>
<g id="task-83" transform="translate(0,1086.2)"><text class="i" x="21" y="2.3">83</text><text class="n" y="2.7"><tspan x="53.3">Excavation</tspan><tspan x="242">20 days</tspan><tspan x="287">Tue 7/01/20</tspan><tspan x="340">Tue 4/02/20</tspan></text><rect class="br" x="898.1" y="-2.5" width="71.9" height="5"/><text class="l" x="974" y="2.5">Excavation</text></g>
<g id="task-84" transform="translate(0,1098.8)"><text class="i" x="21" y="2.3">84</text><text class="n" y="2.7"><tspan x="53.3">Handfill</tspan><tspan x="242">15 days</tspan><tspan x="287">Wed 5/02/20</tspan><tspan x="340">Wed 26/02/20</tspan></text><rect class="br" x="971.6" y="-2.5" width="54.2" height="5"/><text class="l" x="1029.8" y="2.5">Handfill</text></g>
<g id="task-85" transform="translate(0,1111.4)"><text class="i" x="21" y="2.3">85</text><text class="n" y="2.7"><tspan x="53.3">Precast installation</tspan><tspan x="242">15 days</tspan><tspan x="287">Thu 27/02/20</tspan><tspan x="340">Wed 18/03/20</tspan></text><rect class="br" x="1027.3" y="-2.5" width="51.7" height="5"/><text class="l" x="1083" y="2.5">Precast installation</text></g>
<g id="task-86" transform="translate(0,1124)"><text class="i" x="21" y="2.3">86</text><text class="n" y="2.7"><tspan x="53.3">Insitu Concrete</tspan><tspan x="242">30 days</tspan><tspan x="287">Thu 19/03/20</tspan><tspan x="340">Fri 1/05/20</tspan></text><rect class="br" x="1080.5" y="-2.5" width="109.9" height="5"/><text class="l" x="1194.4" y="2.5">Insitu Concrete</text></g>
<g id="task-87" transform="translate(0,1136.6)"><text class="i" x="21" y="2.3">87</text><text class="n" y="2.7"><tspan x="53.3">Backfilling</tspan><tspan x="242">20 days</tspan><tspan x="287">Mon 4/05/20</tspan><tspan x="340">Fri 29/05/20</tspan></text><rect class="br" x="1197" y="-2.5" width="64.3" height="5"/><text class="l" x="1265.3" y="2.5">Backfilling</text></g>
<g id="task-88" transform="translate(0,1149.2)"><text class="i" x="21" y="2.3">88</text><text class="n" y="2.7"><tspan x="53.3">Rip rap placement</tspan><tspan x="242">5 days</tspan><tspan x="287">Tue 2/06/20</tspan><tspan x="340">Mon 8/06/20</tspan></text><rect class="br" x="1270.5" y="-2.5" width="16.2" height="5"/><text class="l" x="1290.7" y="2.5">Rip rap placement</text></g>
<g id="task-89" transform="translate(0,1161.8)"><text class="i" x="21" y="2.3">89</text><text class="n" y="2.7"><tspan x="53.3">Sheetpile removal</tspan><tspan x="242">15 days</tspan><tspan x="287">Tue 28/07/20</tspan><tspan x="340">Mon 17/08/20</tspan></text><rect class="br" x="1412.4" y="-2.5" width="51.6" height="5"/><text class="l" x="1468" y="2.5">Sheetpile removal</text></g>
<g id="task-90" class="s" transform="translate(0,1174.4)"><text class="i" x="21" y="2.3">90</text><text class="n" y="2.7"><tspan x="45">Terrace Steps</tspan><tspan x="242">60 days</tspan><tspan x="287">Mon 4/05/20</tspan><tspan x="340">Mon 27/07/20</tspan></text><path class="sm" d="M1197,3V-1H1410.8V3"/></g>
<g id="task-91" transform="translate(0,1187)"><text class="i" x="21" y="2.3">91</text><text class="n" y="2.7"><tspan x="53.3">Earthworks (stage 1)</tspan><tspan x="242">10 days</tspan><tspan x="287">Mon 4/05/20</tspan><tspan x="340">Fri 15/05/20</tspan></text><rect class="br" x="1197" y="-2.5" width="28.9" height="5"/><text class="l" x="1229.9" y="2.5">Earthworks (stage 1)</text></g>
<g id="task-92" transform="translate(0,1199.6)"><text class="i" x="21" y="2.3">92</text><text class="n" y="2.7"><tspan x="53.3">Earthworks (stage 1a)</tspan><tspan x="242">15 days</tspan><tspan x="287">Mon 18/05/20</tspan><tspan x="340">Mon 8/06/20</tspan></text><rect class="br" x="1232.5" y="-2.5" width="54.2" height="5"/><text class="l" x="1290.7" y="2.5">Earthworks (stage 1a)</text></g>
<g id="task-93" transform="translate(0,1212.2)"><text class="i" x="21" y="2.3">93</text><text class="n" y="2.7"><tspan x="53.3">Form &amp; pour steps (stage 1)</tspan><tspan x="242">20 days</tspan><tspan x="287">Mon 18/05/20</tspan><tspan x="340">Mon 15/06/20</tspan></text><rect class="br" x="1232.5" y="-2.5" width="71.9" height="5"/><text class="l" x="1308.4" y="2.5">Form &amp; pour steps (stage 1)</text></g>
<g id="task-94" transform="translate(0,1224.8)"><text class="i" x="21" y="2.3">94</text><text class="n" y="2.7"><tspan x="53.3">Form &amp; pour steps (stage 1a)</tspan><tspan x="242">30 days</tspan><tspan x="287">Tue 16/06/20</tspan><tspan x="340">Mon 27/07/20</tspan></text><rect class="br" x="1306" y="-2.5" width="104.8" height="5"/><text class="l" x="1414.8" y="2.5">Form &amp; pour steps (stage 1a)</text></g>
<g id="task-95" class="s" transform="translate(0,1237.4)"><text class="i" x="21" y="2.3">95</text><text class="n" y="2.7"><tspan x="45">Boardwalk Construction (B04 &amp; B05)</tspan><tspan x="242">55 days</tspan><tspan x="287">Tue 28/07/20</tspan><tspan x="340">Mon 12/10/20</tspan></text><path class="sm" d="M1412.4,3V-1H1605.8V3"/></g>
<g id="task-96" transform="translate(0,1250)"><text class="i" x="21" y="2.3">96</text><text class="n" y="2.7"><tspan x="53.3">Install precast capping units</tspan><tspan x="242">5 days</tspan><tspan x="287">Tue 28/07/20</tspan><tspan x="340">Mon 3/08/20</tspan></text><rect class="br" x="1412.4" y="-2.5" width="16.1" height="5"/><text class="l" x="1432.5" y="2.5">Install precast capping units</text></g>
<g id="task-97" transform="translate(0,1262.6)"><text class="i" x="21" y="2.3">97</text><text class="n" y="2.7"><tspan x="53.3">Handfill</tspan><tspan x="242">10 days</tspan><tspan x="287">Tue 4/08/20</tspan><tspan x="340">Mon 17/08/20</tspan></text><rect class="br" x="1430.1" y="-2.5" width="33.9" height="5"/><text class="l" x="1468" y="2.5">Handfill</text></g>
<g id="task-98" transform="translate(0,1275.2)"><text class="i" x="21" y="2.3">98</text><text class="n" y="2.7"><tspan x="53.3">Concrete works</tspan><tspan x="242">20 days</tspan><tspan x="287">Tue 18/08/20</tspan><tspan x="340">Mon 14/09/20</tspan></text><rect class="br" x="1465.5" y="-2.5" width="69.4" height="5"/><text class="l" x="1538.9" y="2.5">Concrete works</text></g>
<g id="task-99" transform="translate(0,1287.8)"><text class="i" x="21" y="2.3">99</text><text class="n" y="2.7"><tspan x="53.3">B04 &amp; B05 decking installation</tspan><tspan x="242">20 days</tspan><tspan x="287">Tue 15/09/20</tspan><tspan x="340">Mon 12/10/20</tspan></text><rect class="br" x="1536.5" y="-2.5" width="69.3" height="5"/><text class="l" x="1609.8" y="2.5">B04 &amp; B05 decking installation</text></g>
<g id="task-100" class="s" transform="translate(0,1300.4)"><text class="i" x="21" y="2.3">100</text><text class="n" y="2.7"><tspan x="45">Paving and edge beams (E02,E03,E04,WS01,P01 &amp; P03)</tspan><tspan x="242">95 days</tspan><tspan x="287">Tue 28/07/20</tspan><tspan x="340">Tue 8/12/20</tspan></text><path class="sm" d="M1412.4,3V-1H1750.2V3"/></g>
<g id="task-101" transform="translate(0,1313)"><text class="i" x="21" y="2.3">101</text><text class="n" y="2.7"><tspan x="53.3">Handfill</tspan><tspan x="242">50 days</tspan><tspan x="287">Tue 28/07/20</tspan><tspan x="340">Mon 5/10/20</tspan></text><rect class="br" x="1412.4" y="-2.5" width="175.7" height="5"/><text class="l" x="1592.1" y="2.5">Handfill</text></g>
<g id="task-102" transform="translate(0,1325.6)"><text class="i" x="21" y="2.3">102</text><text class="n" y="2.7"><tspan x="53.3">Pour Pavements &amp; edge beams</tspan><tspan x="242">60 days</tspan><tspan x="287">Tue 15/09/20</tspan><tspan x="340">Tue 8/12/20</tspan></text><rect class="br" x="1536.5" y="-2.5" width="213.7" height="5"/><text class="l" x="1754.2" y="2.5">Pour Pavements &amp; edge beams</text></g>
<g id="task-103" class="s" transform="translate(0,1338.2)"><text class="i" x="21" y="2.3">103</text><text class="n" y="2.7"><tspan x="45">Landscaping</tspan><tspan x="242">105 days</tspan><tspan x="287">Mon 31/08/20</tspan><tspan x="340">Tue 9/02/21</tspan></text><path class="sm" d="M1498.5,3V-1H1909.8V3"/></g>
<g id="task-104" transform="translate(0,1350.8)"><text class="i" x="21" y="2.3">104</text><text class="n" y="2.7"><tspan x="53.3">Timber edging</tspan><tspan x="242">20 days</tspan><tspan x="287">Mon 31/08/20</tspan><tspan x="340">Fri 25/09/20</tspan></text><rect class="br" x="1498.5" y="-2.5" width="64.3" height="5"/><text class="l" x="1566.8" y="2.5">Timber edging</text></g>
<g id="task-105" transform="translate(0,1363.4)"><text class="i" x="21" y="2.3">105</text><text class="n" y="2.7"><tspan x="53.3">Rock Gardens</tspan><tspan x="242">20 days</tspan><tspan x="287">Mon 14/09/20</tspan><tspan x="340">Fri 9/10/20</tspan></text><rect class="br" x="1533.9" y="-2.5" width="64.3" height="5"/><text class="l" x="1602.2" y="2.5">Rock Gardens</text></g>
<g id="task-106" transform="translate(0,1376)"><text class="i" x="21" y="2.3">106</text><text class="n" y="2.7"><tspan x="53.3">Topsoiling &amp; grassing</tspan><tspan x="242">55 days</tspan><tspan x="287">Mon 12/10/20</tspan><tspan x="340">Tue 12/01/21</tspan></text><rect class="br" x="1604.8" y="-2.5" width="234" height="5"/><text class="l" x="1842.8" y="2.5">Topsoiling &amp; grassing</text></g>
<g id="task-107" transform="translate(0,1388.6)"><text class="i" x="21" y="2.3">107</text><text class="n" y="2.7"><tspan x="53.3">Planting</tspan><tspan x="242">25 days</tspan><tspan x="287">Tue 8/12/20</tspan><tspan x="340">Tue 26/01/21</tspan></text><rect class="br" x="1749.2" y="-2.5" width="125.1" height="5"/><text class="l" x="1878.3" y="2.5">Planting</text></g>
<g id="task-108" transform="translate(0,1401.2)"><text class="i" x="21" y="2.3">108</text><text class="n" y="2.7"><tspan x="53.3">Mulching</tspan><tspan x="242">20 days</tspan><tspan x="287">Wed 13/01/21</tspan><tspan x="340">Tue 9/02/21</tspan></text><rect class="br" x="1840.4" y="-2.5" width="69.4" height="5"/><text class="l" x="1913.8" y="2.5">Mulching</text></g>
<g id="task-109" transform="translate(0,1413.8)"><text class="i" x="21" y="2.3">109</text><text class="n" y="2.7"><tspan x="36.7">Contractors float</tspan><tspan x="242">4 wks</tspan><tspan x="287">Wed 10/02/21</tspan><tspan x="340">Tue 9/03/21</tspan></text><rect class="br" x="1911.3" y="-2.5" width="69.4" height="5"/><text class="l" x="1984.7" y="2.5">Contractors float</text></g>
<g id="task-110" transform="translate(0,1426.4)"><text class="i" x="21" y="2.3">110</text><text class="n" y="2.7"><tspan x="36.7">Site tidy in preparation for opening</tspan><tspan x="242">2 wks</tspan><tspan x="287">Wed 10/03/21</tspan><tspan x="340">Tue 23/03/21</tspan></text><rect class="br" x="1982.3" y="-2.5" width="33.9" height="5"/><text class="l" x="2020.2" y="2.5" clip-path="url(#cl)">Site tidy in preparation for opening</text></g>
<g id="task-111" transform="translate(0,1439)"><text class="i" x="21" y="2.3">111</text><text class="n" y="2.7"><tspan x="36.7">Grand opening</tspan><tspan x="242">0 days</tspan><tspan x="287">Tue 23/03/21</tspan><tspan x="340">Tue 23/03/21</tspan></text><path class="ms" d="M2016.2,-3.6l3.6,3.6l-3.6,3.6l-3.6,-3.6z"/><text class="l" x="2021.2" y="2.5">23/03</text></g>
</g>
<g id="connectors">
<path class="lk" d="M410.2,65.6h3V71.9H403V78.2H406.3"/>
<path class="lk" d="M413.7,78.2H419.4V87.8"/>
<path class="lk" d="M640.7,90.8h3V97.1H633.5V103.4H636.8"/>
<path class="lk" d="M644.2,103.4H649.9V113"/>
<path class="lk" d="M644.2,103.4H649.9V176"/>
<path class="lk" d="M644.2,103.4H649.9V516.2"/>
<path class="lk" d="M711.7,116h3V122.3H704.5V128.6H707.8"/>
<path class="lk" d="M715.2,128.6H723.3V150.8"/>
<path class="lk" d="M715.2,128.6H723.3V251.6"/>
<path class="lk" d="M676.2,179H685.3V188.6"/>
<path class="lk" d="M896.6,191.6h3V197.9H894.1V204.2H897.6"/>
<path class="lk" d="M896.6,191.6h3V197.9H894.1V216.8H897.6"/>
<path class="lk" d="M737,254.6h3V260.9H734.6V267.2H738.1"/>
<path class="lk" d="M737,254.6h3V260.9H734.6V279.8H738.1"/>
<path class="lk" d="M737,254.6h3V260.9H734.6V292.4H738.1"/>
<path class="lk" d="M754.7,267.2h3V273.5H752.3V1073.6H755.8"/>
<path class="lk" d="M772.5,279.8h3V286.1H770V317.6H773.5"/>
<path class="lk" d="M843.4,317.6h3V323.9H841V330.2H844.5"/>
<path class="lk" d="M896.6,330.2h3V336.5H894.1V342.8H897.6"/>
<path class="lk" d="M914.3,342.8h3V349.1H911.9V355.4H915.4"/>
<path class="lk" d="M914.3,342.8h3V349.1H911.9V368H915.4"/>
<path class="lk" d="M932,368h3V374.3H929.6V380.6H933.1"/>
<path class="lk" d="M843.4,418.4h3V424.7H841V431H844.5"/>
<path class="lk" d="M952.3,431h3V437.3H949.9V443.6H953.4"/>
<path class="lk" d="M952.3,431h3V437.3H949.9V456.2H953.4"/>
<path class="lk" d="M1527.3,456.2H1536.4V465.8"/>
<path class="lk" d="M1773,1010.6H1776.6V484.4"/>
<path class="lk" d="M1773,1010.6H1776.6V1045.4"/>
<path class="lk" d="M1776.6,484.4H1491V1350.8H1498"/>
<path class="lk" d="M676.2,519.2H685.3V528.8"/>
<path class="lk" d="M810.5,531.8h3V538.1H808V557H811.5"/>
<path class="lk" d="M825.7,557h3V563.3H823.2V582.2H826.7"/>
<path class="lk" d="M833.3,582.2h3V588.5H830.8V594.8H834.3"/>
<path class="lk" d="M845.9,594.8h3V601.1H843.5V607.4H847"/>
<path class="lk" d="M972.6,607.4H979.2V617"/>
<path class="lk" d="M979.7,620H986.8V629.6"/>
<path class="lk" d="M990.3,632.6h3V638.9H983V645.2H986.4"/>
<path class="lk" d="M993.8,645.2h3V651.5H987.9V657.8H991.4"/>
<path class="lk" d="M1005.5,657.8h3V664.1H998.3V670.4H1001.6"/>
<path class="lk" d="M1009,670.4h3V676.7H1003.1V695.6H1006.6"/>
<path class="lk" d="M1041,695.6h3V701.9H1038.5V720.8H1042"/>
<path class="lk" d="M1041,695.6H1118.5V818.6"/>
<path class="lk" d="M972.6,607.4h3V613.7H965.1V746H968.6"/>
<path class="lk" d="M972.6,746H979.2V755.6"/>
<path class="lk" d="M987.8,758.6h3V764.9H985.3V771.2H988.8"/>
<path class="lk" d="M1005.5,771.2h3V777.5H1003.1V783.8H1006.6"/>
<path class="lk" d="M1023.2,783.8h3V790.1H1020.8V796.4H1024.3"/>
<path class="lk" d="M1048.6,796.4h3V802.7H1041.3V809H1044.7"/>
<path class="lk" d="M1052.1,809H1118.5V818.6"/>
<path class="lk" d="M1155,821.6H1164.1V831.2"/>
<path class="lk" d="M1155,821.6H1164.1V843.8"/>
<path class="lk" d="M1190.4,720.8h3V727.1H1157.6V834.2H1161.1"/>
<path class="lk" d="M1208.1,846.8H1235V856.4"/>
<path class="lk" d="M1208.1,846.8H1235V881.6"/>
<path class="lk" d="M1344.9,884.6h3V890.9H1342.5V897.2H1346"/>
<path class="lk" d="M1362.6,897.2h3V903.5H1360.2V909.8H1363.7"/>
<path class="lk" d="M1362.6,897.2h3V903.5H1360.2V972.8H1363.7"/>
<path class="lk" d="M1380.4,909.8H1387V919.4"/>
<path class="lk" d="M1393,859.4h3V865.7H1380.5V922.4H1384"/>
<path class="lk" d="M1555.2,922.4h3V928.7H1552.7V935H1556.2"/>
<path class="lk" d="M1593.2,935h3V941.3H1590.7V947.6H1594.2"/>
<path class="lk" d="M1666.6,947.6h3V953.9H1664.2V998H1667.7"/>
<path class="lk" d="M1666.6,947.6h3V953.9H1664.2V1035.8H1667.7"/>
<path class="lk" d="M1380.4,972.8h3V979.1H1378V985.4H1381.5"/>
<path class="lk" d="M1719.8,998h3V1004.3H1717.4V1010.6H1720.9"/>
<path class="lk" d="M896.6,1073.6h3V1079.9H894.1V1086.2H897.6"/>
<path class="lk" d="M970,1086.2h3V1092.5H967.6V1098.8H971.1"/>
<path class="lk" d="M1025.8,1098.8h3V1105.1H1023.3V1111.4H1026.8"/>
<path class="lk" d="M1079,1111.4h3V1117.7H1076.5V1124H1080"/>
<path class="lk" d="M1190.4,1124H1199.5V1133.6"/>
<path class="lk" d="M1190.4,1124H1199.5V1184"/>
<path class="lk" d="M1190.4,494H1199.5V1133.6"/>
<path class="lk" d="M1261.3,1136.6H1273V1146.2"/>
<path class="lk" d="M1225.9,1187H1235V1196.6"/>
<path class="lk" d="M1225.9,1187H1235V1209.2"/>
<path class="lk" d="M1304.4,1212.2h3V1218.5H1302V1224.8H1305.5"/>
<path class="lk" d="M1410.8,1224.8H1414.9V1164.8"/>
<path class="lk" d="M1410.8,1224.8h3V1231.1H1408.4V1250H1411.9"/>
<path class="lk" d="M1410.8,1224.8h3V1231.1H1408.4V1313H1411.9"/>
<path class="lk" d="M1428.5,1250h3V1256.3H1426.1V1262.6H1429.6"/>
<path class="lk" d="M1464,1262.6h3V1268.9H1461.5V1275.2H1465"/>
<path class="lk" d="M1534.9,1275.2h3V1281.5H1532.5V1287.8H1536"/>
<path class="lk" d="M1534.9,1275.2h3V1281.5H1532.5V1325.6H1536"/>
<path class="lk" d="M1588.1,1313h3V1319.3H1532.5V1325.6H1536"/>
<path class="lk" d="M1562.8,1350.8h3V1357.1H1529.9V1363.4H1533.4"/>
<path class="lk" d="M1598.2,1363.4H1607.3V1373"/>
<path class="lk" d="M1838.8,1376h3V1382.3H1745.2V1388.6H1748.7"/>
<path class="lk" d="M1874.3,1388.6h3V1394.9H1836.4V1401.2H1839.9"/>
<path class="lk" d="M1909.8,1401.2h3V1407.5H1907.3V1413.8H1910.8"/>
<path class="lk" d="M1980.7,1413.8h3V1420.1H1978.3V1426.4H1981.8"/>
<path class="lk" d="M2016.2,1426.4h3V1432.7H2009V1439H2012.3"/>
<path class="lk0" d="M2016.2,153.8h3V1432.7"/>
</g>
<g id="redactions">
<ellipse cx="758" cy="31" rx="22.5" ry="26" fill="#000"/>
<ellipse cx="1371.5" cy="31" rx="22.5" ry="26" fill="#000"/>
</g>
</svg>
